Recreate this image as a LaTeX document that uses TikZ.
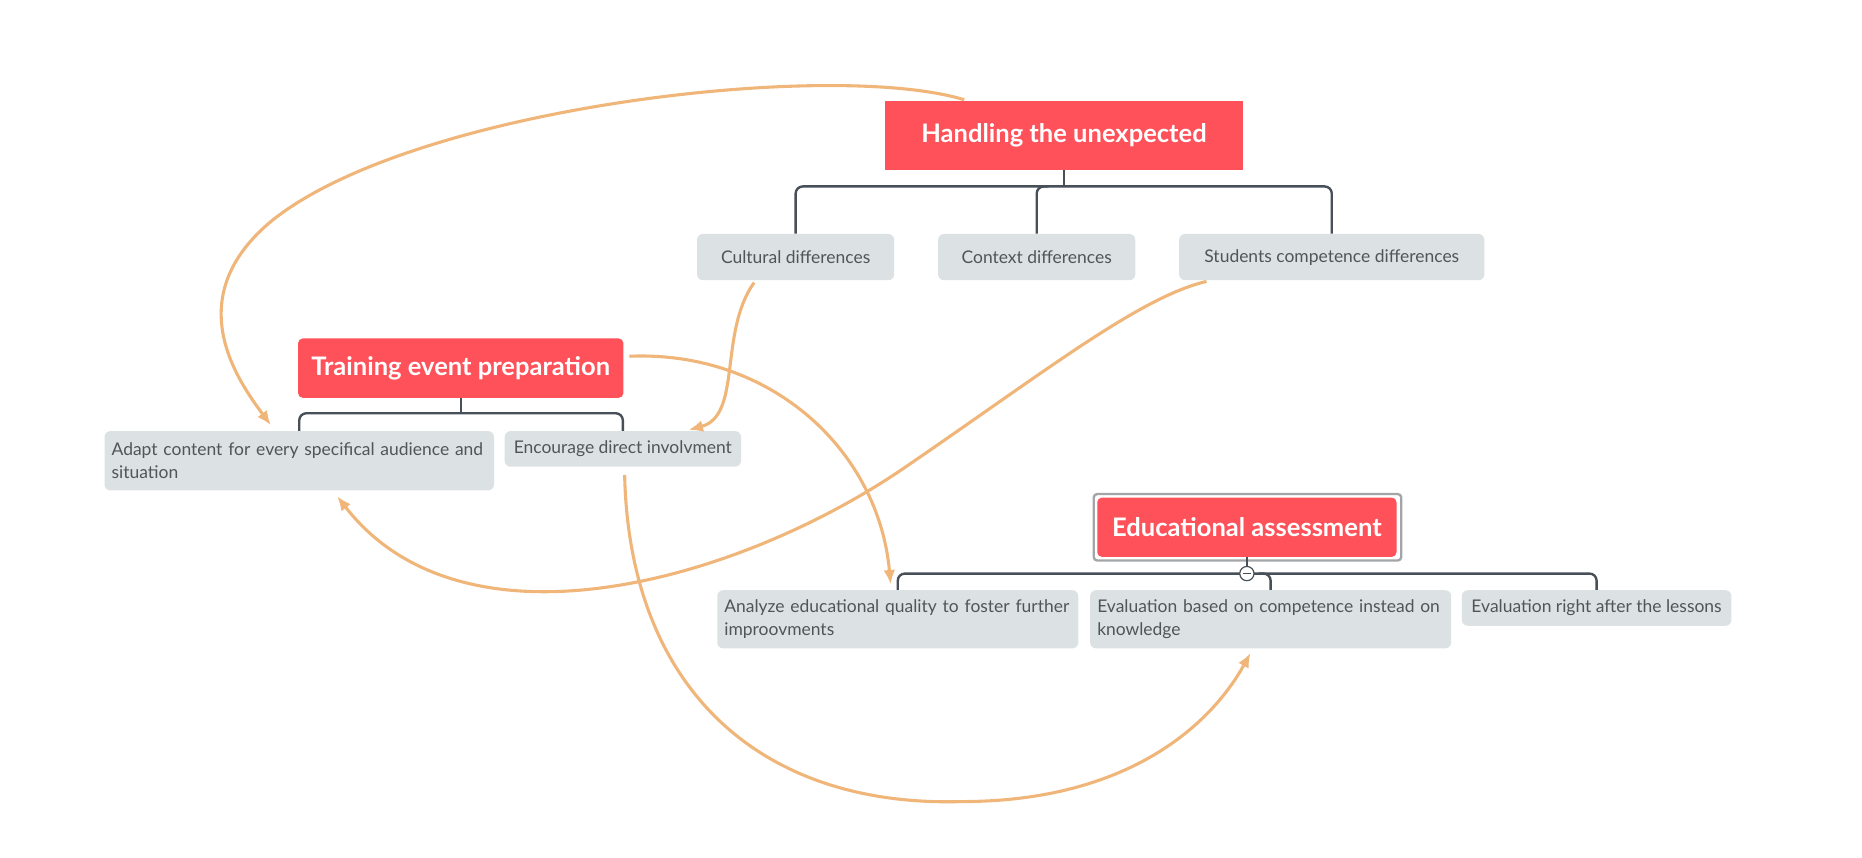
\documentclass[tikz,border=0pt]{standalone}
\usepackage{fontspec}
\setmainfont{Lato}
\usetikzlibrary{arrows.meta}
\definecolor{topicred}{HTML}{FF5159}
\definecolor{subgray}{HTML}{DCE2E4}
\definecolor{subtext}{HTML}{505558}
\definecolor{branch}{HTML}{474F58}
\definecolor{rel}{HTML}{F0B679}
\definecolor{selframe}{HTML}{A3A6A9}
\tikzset{
  topic/.style={fill=topicred, text=white, font=\fontsize{21.5}{25}\selectfont\bfseries, inner sep=0pt, draw=none},
  sub/.style={fill=subgray, text=subtext, font=\fontsize{14.7}{19}\selectfont, inner sep=0pt, rounded corners=5pt, draw=none},
  subml/.style={sub, align=left, inner xsep=6pt, inner ysep=6pt},
  conn/.style={draw=branch, line width=2pt, rounded corners=6pt},
  relline/.style={draw=rel, line width=2.6pt, -{Latex[length=12pt,width=10pt]}},
}
\begin{document}
\begin{tikzpicture}[x=1pt,y=-1pt]
\path[use as bounding box, fill=white] (0,0) rectangle (1568,721.7);

% main topics
\node[topic, minimum width=302pt, minimum height=58pt] (H) at (896,114) {Handling the unexpected};
\node[topic, rounded corners=4pt, minimum width=274pt, minimum height=50pt] (T) at (388,310) {Training event preparation};
\draw[selframe, line width=2pt, rounded corners=3pt] (921,416) rectangle (1180,472);
\node[topic, rounded corners=4pt, minimum width=252pt, minimum height=50pt] (E) at (1050,444) {Educational assessment};

% subtopics
\node[sub, minimum width=166pt, minimum height=39pt] (cult) at (670,216.5) {Cultural differences};
\node[sub, minimum width=166pt, minimum height=39pt] (ctx) at (873,216.5) {Context differences};
\node[sub, minimum width=257pt, minimum height=39pt] (stud) at (1121.5,216.5) {Students competence differences};

\node[subml, text width=316pt, minimum height=50pt] (adapt) at (252,388) {Adapt content for every specifical audience and\\situation};
\node[sub, minimum width=199pt, minimum height=30pt] (enc) at (524.5,378) {Encourage direct involvment};

\node[subml, text width=292pt, minimum height=49pt] (ana) at (756,521.5) {Analyze educational quality to foster further\\improovments};
\node[subml, text width=292pt, minimum height=49pt] (evb) at (1070,521.5) {Evaluation based on competence instead on\\knowledge};
\node[sub, minimum width=227pt, minimum height=30pt] (evr) at (1344.5,512) {Evaluation right after the lessons};

% branch connectors
\coordinate (hb) at (896,157);
\draw[conn] (H.south) -- (hb);
\draw[conn] (cult.north) -- (cult.north |- hb) -- (stud.north |- hb) -- (stud.north);
\draw[conn] ([xshift=10pt]ctx.north |- hb) -- (ctx.north |- hb) -- (ctx.north);

\coordinate (tb) at (388,348);
\draw[conn] (T.south) -- (tb);
\draw[conn] (adapt.north) -- (adapt.north |- tb) -- (enc.north |- tb) -- (enc.north);

\coordinate (eb) at (1050,483);
\draw[conn] (E.south) -- (eb);
\draw[conn] (ana.north) -- (ana.north |- eb) -- (evr.north |- eb) -- (evr.north);
\draw[conn] ([xshift=-10pt]evb.north |- eb) -- (evb.north |- eb) -- (evb.north);
\node[circle, draw=branch, line width=1pt, fill=white, minimum size=12pt, inner sep=0pt] (col) at (eb) {};
\draw[branch, line width=1pt] ([xshift=-3.5pt]col.center) -- ([xshift=3.5pt]col.center);

% relationship curves
\coordinate (r1s) at (812,84);
\coordinate (r1m) at (230,185);
\coordinate (r1e) at (228,358);
\draw[relline] (r1s) .. controls (700,50) and (350,90) .. (r1m) .. controls (150,250) and (200,320) .. (r1e);

\coordinate (r2s) at (635,238);
\coordinate (r2e) at (580,362);
\draw[relline] (r2s) .. controls (605,280) and (625,350) .. (r2e);

\coordinate (r3s) at (1016,237);
\coordinate (r3m) at (760,395);
\coordinate (r3e) at (284,418);
\draw[relline] (r3s) .. controls (960,250) and (880,313) .. (r3m) .. controls (620,490) and (390,555) .. (r3e);

\coordinate (r4s) at (530,300);
\coordinate (r4e) at (750,492);
\draw[relline] (r4s) .. controls (650,295) and (740,380) .. (r4e);

\coordinate (r5s) at (526,400);
\coordinate (r5m) at (810,675);
\coordinate (r5e) at (1053,550);
\draw[relline] (r5s) .. controls (530,580) and (640,680) .. (r5m) .. controls (950,675) and (1020,610) .. (r5e);
\end{tikzpicture}
\end{document}
